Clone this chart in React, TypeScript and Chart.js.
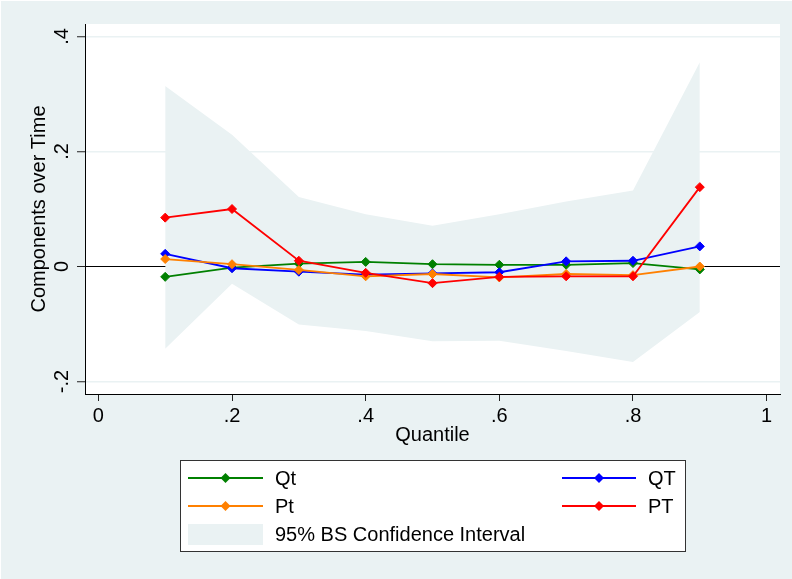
import React, { useEffect, useRef } from "react";
import { Chart, registerables } from "chart.js";

Chart.register(...registerables);

// ---- data ----
const quantiles = [0.1, 0.2, 0.3, 0.4, 0.5, 0.6, 0.7, 0.8, 0.9];
const qtSmall = [-0.018, -0.002, 0.005, 0.008, 0.004, 0.003, 0.003, 0.006, -0.005]; // Qt
const qtBig = [0.022, -0.003, -0.009, -0.014, -0.012, -0.010, 0.009, 0.010, 0.035]; // QT
const ptSmall = [0.013, 0.004, -0.006, -0.017, -0.013, -0.019, -0.013, -0.015, 0.0]; // Pt
const ptBig = [0.085, 0.100, 0.010, -0.011, -0.029, -0.018, -0.017, -0.017, 0.138]; // PT
const ciUpper = [0.314, 0.229, 0.121, 0.091, 0.071, 0.091, 0.113, 0.132, 0.355];
const ciLower = [-0.143, -0.030, -0.101, -0.112, -0.130, -0.129, -0.147, -0.166, -0.079];
const xTicks = [0, 0.2, 0.4, 0.6, 0.8, 1];
const yTicks = [-0.2, 0, 0.2, 0.4];
const seriesLabels = ["Qt", "QT", "Pt", "PT"];
const seriesColors = ["#008000", "#0000FF", "#FF8000", "#FF0000"];
const ciLabel = "95% BS Confidence Interval";
const xTitle = "Quantile";
const yTitle = "Components over Time";

const BG = "#EAF2F3";
const FONT_FAMILY = "'Liberation Sans', Arial, Helvetica, sans-serif";
const FONT_SIZE = 20;

const fmt = (v: number) => {
  const s = String(+v.toFixed(2));
  return s.replace(/^(-?)0\./, "$1.");
};

const pts = (ys: number[]) => quantiles.map((x, i) => ({ x, y: ys[i] }));

function diamond(ctx: CanvasRenderingContext2D, cx: number, cy: number, r: number) {
  ctx.beginPath();
  ctx.moveTo(cx - r, cy);
  ctx.lineTo(cx, cy - r);
  ctx.lineTo(cx + r, cy);
  ctx.lineTo(cx, cy + r);
  ctx.closePath();
  ctx.fill();
}

const backgroundPlugin = {
  id: "stataBackground",
  beforeDraw(chart: any) {
    const { ctx, width, height, chartArea } = chart;
    ctx.save();
    ctx.fillStyle = BG;
    ctx.fillRect(0, 0, width, height);
    ctx.fillStyle = "#FFFFFF";
    ctx.fillRect(0, 0, width, 1);
    ctx.fillRect(0, 0, 1, height);
    ctx.fillRect(chartArea.left, chartArea.top, chartArea.right - chartArea.left, chartArea.bottom - chartArea.top);
    ctx.restore();
  },
};

const yLabelPlugin = {
  id: "rotatedYLabels",
  afterDraw(chart: any) {
    const { ctx } = chart;
    const ys = chart.scales.y;
    ctx.save();
    ctx.fillStyle = "#000";
    ctx.font = `${FONT_SIZE}px ${FONT_FAMILY}`;
    ctx.textAlign = "center";
    ctx.textBaseline = "middle";
    ys.ticks.forEach((t: any) => {
      const py = ys.getPixelForValue(t.value);
      ctx.save();
      ctx.translate(62, py);
      ctx.rotate(-Math.PI / 2);
      ctx.fillText(fmt(t.value), 0, 0);
      ctx.restore();
    });
    ctx.restore();
  },
};

const legendPlugin = {
  id: "stataLegend",
  afterDraw(chart: any) {
    const { ctx } = chart;
    ctx.save();
    ctx.fillStyle = "#FFFFFF";
    ctx.fillRect(180.5, 460.5, 505, 91);
    ctx.strokeStyle = "#333";
    ctx.lineWidth = 1;
    ctx.strokeRect(180.5, 460.5, 505, 91);
    const rows = [478, 506, 534];
    const cols = [
      { x0: 188, x1: 263, lx: 275 },
      { x0: 562, x1: 636, lx: 648 },
    ];
    ctx.font = `${FONT_SIZE}px ${FONT_FAMILY}`;
    ctx.textBaseline = "middle";
    ctx.textAlign = "left";
    seriesLabels.forEach((lab, i) => {
      const c = cols[i % 2];
      const y = rows[Math.floor(i / 2)];
      ctx.strokeStyle = seriesColors[i];
      ctx.lineWidth = 1.8;
      ctx.beginPath();
      ctx.moveTo(c.x0, y);
      ctx.lineTo(c.x1, y);
      ctx.stroke();
      ctx.fillStyle = seriesColors[i];
      diamond(ctx, (c.x0 + c.x1) / 2, y, 5);
      ctx.fillStyle = "#000";
      ctx.fillText(lab, c.lx, y + 1);
    });
    ctx.fillStyle = BG;
    ctx.fillRect(188, 524, 75, 21);
    ctx.fillStyle = "#000";
    ctx.fillText(ciLabel, 275, rows[2] + 1);
    ctx.restore();
  },
};

export default function App() {
  const ref = useRef<HTMLCanvasElement | null>(null);

  useEffect(() => {
    document.documentElement.style.background = BG;
    document.body.style.background = BG;
    if (!ref.current) return;
    const font = { family: FONT_FAMILY, size: FONT_SIZE };
    const orders = [4, 3, 2, 1];
    const series = seriesLabels.map((label, i) => ({
      label,
      data: pts([qtSmall, qtBig, ptSmall, ptBig][i]),
      borderColor: seriesColors[i],
      backgroundColor: seriesColors[i],
      borderWidth: 1.8,
      pointStyle: "rectRot",
      pointRadius: 4.5,
      pointBorderWidth: 1,
      pointBackgroundColor: seriesColors[i],
      pointBorderColor: seriesColors[i],
      fill: false,
      tension: 0,
      order: orders[i],
    }));
    const chart = new Chart(ref.current, {
      type: "line",
      data: {
        datasets: [
          {
            label: "ciUpper",
            data: pts(ciUpper),
            borderWidth: 0,
            borderColor: "rgba(0,0,0,0)",
            backgroundColor: BG,
            pointRadius: 0,
            fill: "+1",
            tension: 0,
            order: 10,
          },
          {
            label: "ciLower",
            data: pts(ciLower),
            borderWidth: 0,
            borderColor: "rgba(0,0,0,0)",
            backgroundColor: BG,
            pointRadius: 0,
            fill: false,
            tension: 0,
            order: 11,
          },
          ...series,
        ] as any,
      },
      options: {
        responsive: false,
        animation: false,
        devicePixelRatio: 1,
        events: [],
        layout: { padding: { top: 24, right: 12, bottom: 130, left: 0 } },
        plugins: {
          legend: { display: false },
          tooltip: { enabled: false },
          filler: { drawTime: "beforeDatasetsDraw" },
        } as any,
        scales: {
          x: {
            type: "linear",
            min: -0.02,
            max: 1.02,
            afterBuildTicks: (s: any) => {
              s.ticks = xTicks.map((v) => ({ value: v }));
            },
            afterFit: (s: any) => {
              s.height = 55;
            },
            grid: { drawOnChartArea: false, drawTicks: true, tickLength: 7, tickColor: "#222", lineWidth: 1 },
            border: { display: true, color: "#000", width: 1 },
            ticks: {
              color: "#000",
              font,
              padding: 3,
              maxRotation: 0,
              minRotation: 0,
              autoSkip: false,
              callback: (v: any) => fmt(Number(v)),
            },
            title: { display: true, text: xTitle, color: "#000", font, padding: { top: 0, bottom: 2 } },
          },
          y: {
            type: "linear",
            min: -0.2217,
            max: 0.4217,
            afterBuildTicks: (s: any) => {
              s.ticks = yTicks.map((v) => ({ value: v }));
            },
            afterFit: (s: any) => {
              s.width = 85;
            },
            grid: {
              color: (c: any) => (c.tick && c.tick.value === 0 ? "#000" : BG),
              lineWidth: (c: any) => (c.tick && c.tick.value === 0 ? 1 : 1.5),
              drawTicks: true,
              tickLength: 8,
              tickColor: "#222",
              tickWidth: 1,
            },
            border: { display: true, color: "#000", width: 1 },
            ticks: { display: false },
            title: { display: true, text: yTitle, color: "#000", font, padding: { top: 27, bottom: 0 } },
          },
        } as any,
      },
      plugins: [backgroundPlugin, yLabelPlugin, legendPlugin],
    });
    return () => chart.destroy();
  }, []);

  return (
    <div style={{ position: "fixed", left: 0, top: 0, width: 792, height: 579 }}>
      <canvas ref={ref} width={792} height={579} style={{ display: "block" }} />
    </div>
  );
}
